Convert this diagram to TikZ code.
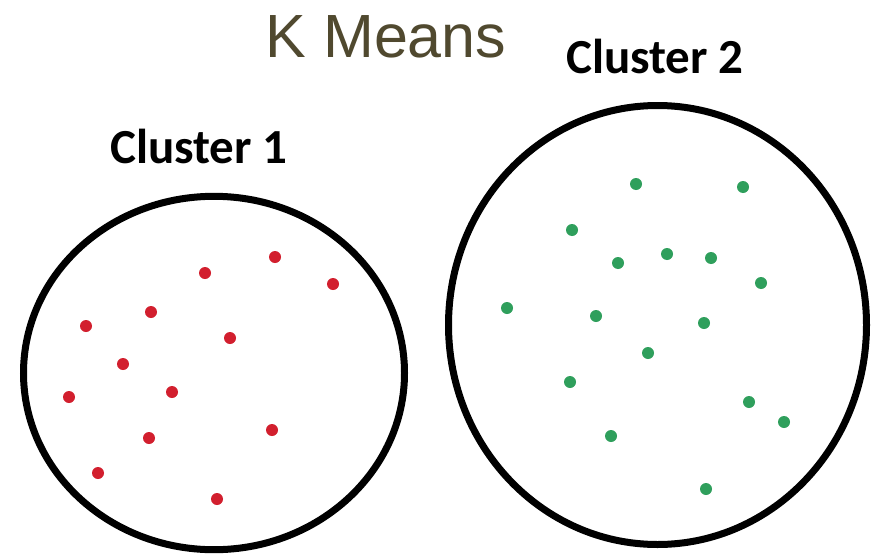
\documentclass[tikz,border=0pt]{standalone}
\usepackage{fontspec}
\usepackage{tikz}
\setmainfont{Liberation Sans}
\newfontfamily\clusterfont{Carlito}

\begin{document}
\begin{tikzpicture}[x=1pt,y=-1pt]

% Colori
\definecolor{colTitle}{HTML}{50492F}
\definecolor{colRed}{HTML}{D21F2E}
\definecolor{colGreen}{HTML}{2F9F5C}

% Riquadro
\useasboundingbox (0,0) rectangle (872,554);
\fill[white] (0,0) rectangle (872,554);

% Titolo
\node[font=\fontsize{61}{61}\selectfont, text=colTitle, anchor=base] (title) at (386,57) {K Means};

% Etichette dei cluster
\node[font=\clusterfont\bfseries\fontsize{49}{49}\selectfont, anchor=base] (lab1) at (199,163) {Cluster 1};
\node[font=\clusterfont\bfseries\fontsize{49}{49}\selectfont, anchor=base] (lab2) at (655,73) {Cluster 2};

% Contorni dei cluster
\draw[line width=7pt] (214,373) ellipse [x radius=190.5, y radius=176.7];
\draw[line width=7pt] (657.5,325) ellipse [x radius=209, y radius=219.5];

% Punti del cluster 1
\foreach \px/\py in {275/257, 205/273, 333/284, 151/312, 86/326, 230/338,
                     123/364, 69/397, 172/392, 272/430, 149/438, 98/473, 217/499}
  \fill[colRed] (\px,\py) circle (6);

% Punti del cluster 2
\foreach \px/\py in {636/184, 743/187, 572/230, 618/263, 667/254, 711/258,
                     761/283, 507/308, 596/316, 704/323, 648/353, 570/382,
                     749/402, 784/422, 611/436, 706/489}
  \fill[colGreen] (\px,\py) circle (6);

\end{tikzpicture}
\end{document}
